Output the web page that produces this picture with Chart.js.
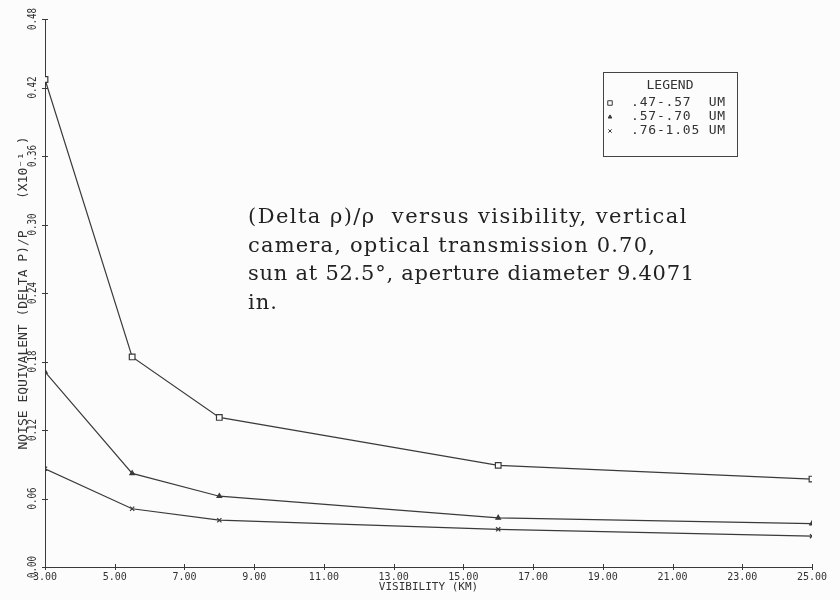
<!DOCTYPE html>
<html>
<head>
<meta charset="utf-8">
<script src="https://cdn.jsdelivr.net/npm/chart.js@4/dist/chart.umd.min.js"></script>
<style>
  html, body { margin: 0; padding: 0; background: #fcfcfc; }
  #wrap { width: 840px; height: 600px; }
</style>
</head>
<body>
<div id="wrap"><canvas id="chart" width="840" height="600"></canvas></div>
<script>
// data
const visibility = [3, 5.5, 8, 16, 25];
const band1 = [0.427, 0.184, 0.131, 0.089, 0.077];   // .47-.57 UM
const band2 = [0.171, 0.082, 0.062, 0.043, 0.038];   // .57-.70 UM
const band3 = [0.086, 0.051, 0.041, 0.033, 0.027];   // .76-1.05 UM
const bandLabels = ['.47-.57  UM', '.57-.70  UM', '.76-1.05 UM'];

const captionLines = [
    '(Delta \u03c1)/\u03c1  versus visibility, vertical',
    'camera, optical transmission 0.70,',
    'sun at 52.5\u00b0, aperture diameter 9.4071',
    'in.'
];
const captionWidths = [440, 408, 447, 30];

const INK = '#3a3a3a';
const MONO = '"DejaVu Sans Mono", "Liberation Mono", monospace';

const toPoints = (ys) => visibility.map((x, i) => ({ x: x, y: ys[i] }));

const bandStyles = [
    { pointStyle: 'rect', pointRadius: 4, pointBackgroundColor: '#fcfcfc' },
    { pointStyle: 'triangle', pointRadius: 2.6, pointBackgroundColor: INK },
    { pointStyle: 'crossRot', pointRadius: 3, pointBackgroundColor: INK }
];

const datasets = [band1, band2, band3].map((ys, i) => ({
    label: bandLabels[i],
    data: toPoints(ys),
    borderColor: INK,
    borderWidth: 1.2,
    pointBorderColor: INK,
    pointBorderWidth: 1.2,
    tension: 0,
    ...bandStyles[i]
}));

// background, tick marks, rotated y tick labels, caption and boxed legend
const plotDecor = {
    id: 'plotDecor',
    beforeDraw(chart) {
        const ctx = chart.ctx;
        ctx.save();
        ctx.fillStyle = '#fcfcfc';
        ctx.fillRect(0, 0, chart.width, chart.height);
        ctx.restore();
    },
    afterDraw(chart) {
        const ctx = chart.ctx;
        const xs = chart.scales.x;
        const ys = chart.scales.y;
        const area = chart.chartArea;
        ctx.save();
        ctx.strokeStyle = INK;
        ctx.lineWidth = 1;

        // crossing tick marks
        xs.ticks.forEach(t => {
            const px = Math.round(xs.getPixelForValue(t.value)) + 0.5;
            ctx.beginPath();
            ctx.moveTo(px, area.bottom - 3);
            ctx.lineTo(px, area.bottom + 3);
            ctx.stroke();
        });
        ys.ticks.forEach(t => {
            const py = Math.round(ys.getPixelForValue(t.value)) + 0.5;
            ctx.beginPath();
            ctx.moveTo(area.left - 3, py);
            ctx.lineTo(area.left + 3, py);
            ctx.stroke();
        });

        // y tick labels, rotated like the plotter output
        ctx.fillStyle = '#333';
        ctx.font = '12px ' + MONO;
        ctx.textAlign = 'center';
        ctx.textBaseline = 'middle';
        ys.ticks.forEach(t => {
            const py = ys.getPixelForValue(t.value);
            ctx.save();
            ctx.translate(area.left - 12, py);
            ctx.rotate(-Math.PI / 2);
            ctx.scale(0.76, 1);
            ctx.fillText(t.value.toFixed(2), 0, 0);
            ctx.restore();
        });

        // caption text
        ctx.fillStyle = '#222';
        ctx.font = '21px "DejaVu Serif", "Liberation Serif", serif';
        ctx.textAlign = 'left';
        ctx.textBaseline = 'alphabetic';
        captionLines.forEach((line, i) => {
            ctx.letterSpacing = '0px';
            const w = ctx.measureText(line).width;
            const sp = Math.max(0, (captionWidths[i] - w) / line.length);
            ctx.letterSpacing = sp.toFixed(2) + 'px';
            ctx.fillText(line, 248, 223 + i * 28.5);
        });
        ctx.letterSpacing = '0px';

        // boxed legend
        ctx.strokeStyle = '#444';
        ctx.strokeRect(603.5, 72.5, 134, 84);
        ctx.fillStyle = '#333';
        ctx.font = '13px ' + MONO;
        ctx.textAlign = 'center';
        ctx.textBaseline = 'middle';
        ctx.fillText('LEGEND', 670, 86);
        ctx.textAlign = 'left';
        ctx.letterSpacing = '0.8px';
        chart.data.datasets.forEach((ds, i) => {
            const ly = 103 + i * 14;
            ctx.fillStyle = ds.pointBackgroundColor;
            ctx.strokeStyle = INK;
            ctx.lineWidth = 1;
            Chart.helpers.drawPoint(ctx, {
                pointStyle: ds.pointStyle,
                radius: ds.pointRadius * 0.8,
                rotation: 0,
                borderWidth: 1
            }, 610, ly);
            ctx.fillStyle = '#333';
            ctx.fillText(ds.label, 631, ly);
        });
        ctx.restore();
    }
};

new Chart(document.getElementById('chart'), {
    type: 'line',
    data: { datasets: datasets },
    options: {
        responsive: false,
        animation: false,
        layout: { padding: { top: 19, right: 28, left: 0, bottom: 0 } },
        plugins: {
            legend: { display: false },
            tooltip: { enabled: false }
        },
        scales: {
            x: {
                type: 'linear',
                min: 3,
                max: 25,
                afterFit: (scale) => { scale.height = 33; },
                ticks: {
                    stepSize: 2,
                    padding: 4,
                    maxRotation: 0,
                    color: '#333',
                    font: { family: MONO, size: 10 },
                    callback: (v) => Number(v).toFixed(2)
                },
                grid: { display: true, drawOnChartArea: false, drawTicks: false },
                border: { display: true, color: INK, width: 1 },
                title: {
                    display: true,
                    text: 'VISIBILITY (KM)',
                    color: '#333',
                    font: { family: MONO, size: 11 },
                    padding: { top: 0, bottom: 6 }
                }
            },
            y: {
                type: 'linear',
                min: 0,
                max: 0.48,
                afterFit: (scale) => { scale.width = 45; },
                ticks: { stepSize: 0.06, display: false },
                grid: { display: true, drawOnChartArea: false, drawTicks: false },
                border: { display: true, color: INK, width: 1 },
                title: {
                    display: true,
                    text: 'NOISE EQUIVALENT (DELTA P)/P    (X10\u207b\u00b9 )',
                    color: '#333',
                    font: { family: MONO, size: 13 },
                    padding: { top: 16, bottom: 0 }
                }
            }
        }
    },
    plugins: [plotDecor]
});
</script>
</body>
</html>
